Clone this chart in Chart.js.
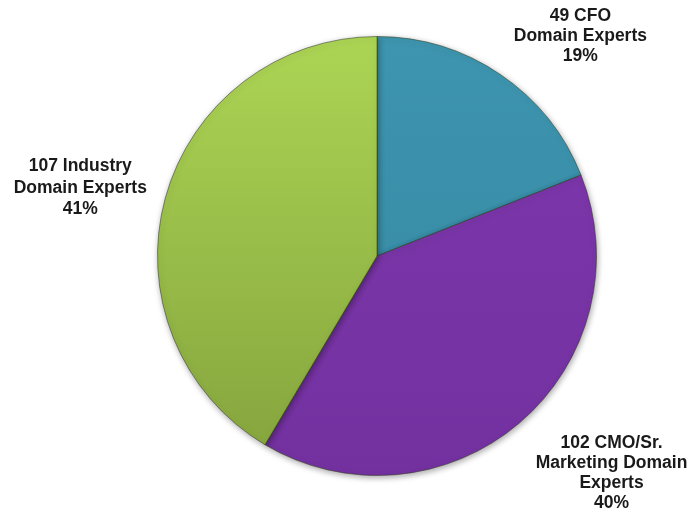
<!DOCTYPE html>
<html>
<head>
<meta charset="utf-8">
<script src="https://cdn.jsdelivr.net/npm/chart.js@4.4.1/dist/chart.umd.min.js"></script>
<style>
  html, body { margin: 0; padding: 0; background: #fff; }
  #wrap { width: 691px; height: 516px; }
</style>
</head>
<body>
<div id="wrap"><canvas id="pieChart" width="691" height="516"></canvas></div>
<script>
// chart data
var categories = ["CFO Domain Experts", "CMO/Sr. Marketing Domain Experts", "Industry Domain Experts"];
var counts = [49, 102, 107];
var percents = [19, 40, 41];
var labelLines = [
    ["49 CFO", "Domain Experts", "19%"],
    ["102 CMO/Sr.", "Marketing Domain", "Experts", "40%"],
    ["107 Industry", "Domain Experts", "41%"]
];

// top / bottom colours of each slice's fill
var colorsTop = ["#3e95af", "#7e38ac", "#acd554"];
var colorsBottom = ["#3486a0", "#7331a0", "#84a33d"];

function sliceFill(context) {
    var chart = context.chart;
    var area = chart.chartArea;
    if (!area) return colorsTop[context.dataIndex];
    var g = chart.ctx.createLinearGradient(0, area.top, 0, area.bottom);
    g.addColorStop(0, colorsTop[context.dataIndex]);
    g.addColorStop(1, colorsBottom[context.dataIndex]);
    return g;
}

// where each text block sits relative to its slice (angle nudge in degrees, distance in radii)
var labelPlace = [
    { turn: 8.6, dist: 1.364, lineH: 20 },
    { turn: -6.7, dist: 1.457, lineH: 20 },
    { turn: -2.4, dist: 1.387, lineH: 21.5 }
];

var shadowPlugin = {
    id: 'pieShadow',
    beforeDatasetDraw: function(chart) {
        var ctx = chart.ctx;
        ctx.save();
        ctx.shadowColor = 'rgba(0,0,0,0.35)';
        ctx.shadowBlur = 6;
        ctx.shadowOffsetX = 1;
        ctx.shadowOffsetY = 2;
    },
    afterDatasetDraw: function(chart) {
        chart.ctx.restore();
    }
};

var labelPlugin = {
    id: 'sliceLabels',
    afterDraw: function(chart) {
        var ctx = chart.ctx;
        var meta = chart.getDatasetMeta(0);
        ctx.save();
        ctx.font = 'bold 17.5px "Liberation Sans", Arial, sans-serif';
        ctx.fillStyle = '#1a1a1a';
        ctx.textAlign = 'center';
        ctx.textBaseline = 'middle';
        meta.data.forEach(function(arc, i) {
            var p = labelPlace[i];
            var mid = (arc.startAngle + arc.endAngle) / 2 + p.turn * Math.PI / 180;
            var cx = arc.x + Math.cos(mid) * arc.outerRadius * p.dist;
            var cy = arc.y + Math.sin(mid) * arc.outerRadius * p.dist;
            var lines = labelLines[i];
            var y0 = cy - (lines.length - 1) * p.lineH / 2;
            lines.forEach(function(t, k) {
                ctx.fillText(t, cx, y0 + k * p.lineH);
            });
        });
        ctx.restore();
    }
};

var chart = new Chart(document.getElementById('pieChart').getContext('2d'), {
    type: 'pie',
    data: {
        labels: categories,
        datasets: [{
            data: counts,
            backgroundColor: sliceFill,
            borderColor: 'rgba(50,60,30,0.55)',
            borderWidth: 1
        }]
    },
    options: {
        responsive: false,
        animation: false,
        rotation: 0,
        layout: { padding: { top: 36, bottom: 40, left: 157, right: 94 } },
        plugins: {
            legend: { display: false },
            tooltip: { enabled: false }
        }
    },
    plugins: [shadowPlugin, labelPlugin]
});
</script>
</body>
</html>
